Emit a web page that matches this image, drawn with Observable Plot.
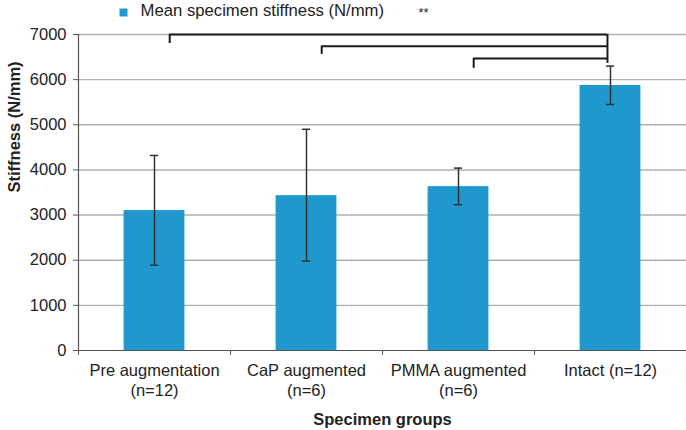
<!DOCTYPE html>
<html>
<head>
<meta charset="utf-8">
<script src="https://cdn.jsdelivr.net/npm/d3@7"></script>
<script src="https://cdn.jsdelivr.net/npm/@observablehq/plot@0.6"></script>
<style>
  html, body { margin: 0; padding: 0; background: #fff; }
  #chart { width: 686px; height: 430px; }
</style>
</head>
<body>
<div id="chart"></div>
<script>
// ---- data ----
const groups = ["Pre augmentation\n(n=12)", "CaP augmented\n(n=6)", "PMMA augmented\n(n=6)", "Intact (n=12)"];
const means = [3100, 3430, 3630, 5870];
const errLow = [1890, 1980, 3230, 5450];
const errHigh = [4320, 4900, 4040, 6300];
const yTicks = [0, 1000, 2000, 3000, 4000, 5000, 6000, 7000];
// significance brackets: from group index to group index, bar height, left tick bottom
const bracketFrom = [0, 1, 2];
const bracketTo = [3, 3, 3];
const bracketY = [7000, 6740, 6470];
const bracketTickEnd = [6800, 6560, 6250];
const bracketRightEnd = 6360;
const legendLabel = "Mean specimen stiffness (N/mm)";
const sigLabel = "**";

// ---- build ----
const barColor = "#1f98cd";
const rows = groups.map((g, i) => ({i, g, mean: means[i], lo: errLow[i], hi: errHigh[i]}));
const brackets = bracketFrom.map((f, k) => ({x1: f + 0.6, x2: bracketTo[k] + 0.48, y: bracketY[k], yEnd: bracketTickEnd[k]}));
const capHalf = 0.027;

const chart = Plot.plot({
  width: 686,
  height: 430,
  marginTop: 34,
  marginBottom: 80,
  marginLeft: 78,
  marginRight: 0,
  style: {fontFamily: "'Liberation Sans', Arial, sans-serif", fontSize: "16.5px", color: "#222", background: "#fff"},
  x: {type: "linear", domain: [0, 4]},
  y: {domain: [0, 7000]},
  marks: [
    Plot.gridY(yTicks.filter(d => d > 0), {stroke: "#b0b0b0", strokeOpacity: 1, strokeWidth: 1.4}),
    Plot.rectY(rows, {x1: d => d.i + 0.3, x2: d => d.i + 0.7, y1: 0, y2: "mean", fill: barColor}),
    Plot.ruleX(rows, {x: d => d.i + 0.5, y1: "lo", y2: "hi", stroke: "#333", strokeWidth: 1.5}),
    Plot.ruleY(rows, {x1: d => d.i + 0.5 - capHalf, x2: d => d.i + 0.5 + capHalf, y: "lo", stroke: "#333", strokeWidth: 1.5}),
    Plot.ruleY(rows, {x1: d => d.i + 0.5 - capHalf, x2: d => d.i + 0.5 + capHalf, y: "hi", stroke: "#333", strokeWidth: 1.5}),
    // brackets
    Plot.ruleY(brackets, {x1: "x1", x2: "x2", y: "y", stroke: "#1a1a1a", strokeWidth: 2}),
    Plot.ruleX(brackets, {x: "x1", y1: "y", y2: "yEnd", stroke: "#1a1a1a", strokeWidth: 2}),
    Plot.ruleX([brackets[0]], {x: "x2", y1: "y", y2: bracketRightEnd, stroke: "#1a1a1a", strokeWidth: 2}),
    // axes
    Plot.ruleX([0], {stroke: "#555", strokeWidth: 1.2}),
    Plot.ruleY([0], {stroke: "#555", strokeWidth: 1.2}),
    Plot.axisY({ticks: yTicks, tickFormat: d => String(d), tickSize: 5, tickPadding: 7, label: null, fontSize: 16.5, stroke: "#555"}),
    Plot.axisX({ticks: [0, 1, 2, 3, 4], tickFormat: () => "", tickSize: 5, label: null, stroke: "#555"}),
    Plot.text(rows, {x: d => d.i + 0.5, y: 0, text: "g", lineAnchor: "top", dy: 11, lineHeight: 1.22, fontSize: 16.5, fill: "#222"}),
    Plot.text(["Stiffness (N/mm)"], {frameAnchor: "left", dx: -64, rotate: -90, fontWeight: "bold", fontSize: 16.5, fill: "#222"}),
    Plot.text(["Specimen groups"], {frameAnchor: "bottom", dy: 74, fontWeight: "bold", fontSize: 16.5, fill: "#222"}),
    // legend
    Plot.dot([legendLabel], {frameAnchor: "top-left", dx: 45, dy: -22, symbol: "square", r: 4.5, fill: barColor, stroke: null}),
    Plot.text([legendLabel], {frameAnchor: "top-left", dx: 62, dy: -24, lineAnchor: "middle", textAnchor: "start", fontSize: 16.7, fill: "#222"}),
    Plot.text([sigLabel], {frameAnchor: "top-left", dx: 340, dy: -22, lineAnchor: "middle", textAnchor: "start", fontSize: 13, fill: "#222"})
  ]
});
document.getElementById("chart").appendChild(chart);
</script>
</body>
</html>
